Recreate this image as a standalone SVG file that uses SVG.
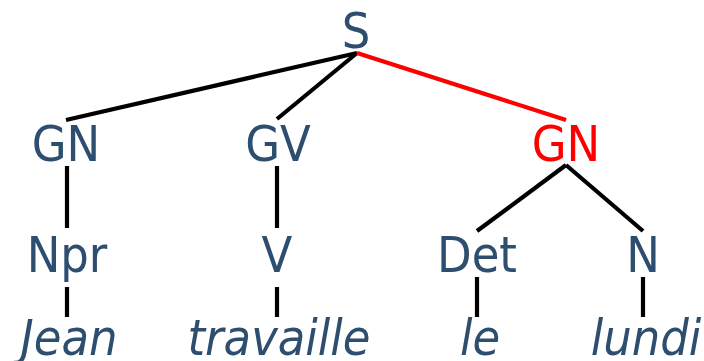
<svg xmlns="http://www.w3.org/2000/svg" width="704" height="361" viewBox="0 0 704 361">
<style>
.t{font-family:"DejaVu Sans Condensed","DejaVu Sans",sans-serif;font-size:50px;fill:#2d4e6e;text-anchor:middle}
.it{font-style:italic}
.red{fill:#ff0000}
.e{stroke:#000;stroke-width:4.2;fill:none}
.er{stroke:#ff0000;stroke-width:4.2;fill:none}
</style>
<rect width="704" height="361" fill="#fff"/>
<g id="connectors">
<line class="e" x1="357" y1="53" x2="66" y2="120"/>
<line class="e" x1="357" y1="53" x2="277" y2="119"/>
<line class="er" x1="357" y1="53" x2="566" y2="120"/>
<line class="e" x1="67" y1="166" x2="67" y2="228"/>
<line class="e" x1="277" y1="166" x2="277" y2="228"/>
<line class="e" x1="566" y1="165" x2="477" y2="231"/>
<line class="e" x1="566" y1="165" x2="643" y2="231"/>
<line class="e" x1="67" y1="287" x2="67" y2="317"/>
<line class="e" x1="277" y1="287" x2="277" y2="317"/>
<line class="e" x1="477" y1="277" x2="477" y2="317"/>
<line class="e" x1="643" y1="277" x2="643" y2="317"/>
</g>
<g id="S"><text class="t" x="356" y="48">S</text></g>
<g id="GN1"><text class="t" x="66" y="161">GN</text></g>
<g id="GV"><text class="t" x="278" y="161">GV</text></g>
<g id="GN2"><text class="t red" x="566" y="161">GN</text></g>
<g id="Npr"><text class="t" x="67" y="272">Npr</text></g>
<g id="V"><text class="t" x="277" y="272">V</text></g>
<g id="Det"><text class="t" x="477" y="272">Det</text></g>
<g id="N"><text class="t" x="643" y="272">N</text></g>
<g id="Jean"><text class="t it" x="69" y="355">Jean</text></g>
<g id="travaille"><text class="t it" x="279" y="355">travaille</text></g>
<g id="le"><text class="t it" x="480" y="355">le</text></g>
<g id="lundi"><text class="t it" x="646" y="355">lundi</text></g>
</svg>
